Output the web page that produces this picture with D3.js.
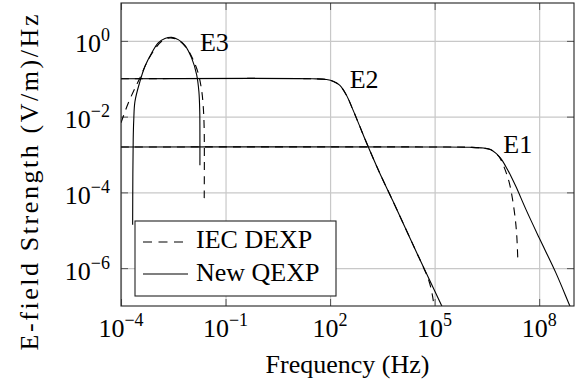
<!DOCTYPE html>
<html>
<head>
<meta charset="utf-8">
<script src="https://cdn.jsdelivr.net/npm/d3@7"></script>
<style>
  body { margin: 0; background: #fff; }
  svg { display: block; }
</style>
</head>
<body>
<svg id="chart"></svg>
<script>
// tick values
const xTicks = [1e-4, 1e-1, 1e2, 1e5, 1e8];
const yTicks = [1e-6, 1e-4, 1e-2, 1e0];
const curveNames = ["E1", "E2", "E3"];
const legendNames = ["IEC DEXP", "New QEXP"];

// [frequency Hz, E-field (V/m)/Hz]
const e1Qexp = [[1e-4,1.58e-3],[1e5,1.58e-3],[1e6,1.55e-3],[2.5e6,1.48e-3],[4e6,1.35e-3],[5.8e6,1.07e-3],
  [7.9e6,7.9e-4],[1.12e7,4.7e-4],[1.58e7,2.6e-4],[2.19e7,1.38e-4],[4.2e7,3.5e-5],[1e8,6.3e-6],
  [3e8,7.6e-7],[7.3e8,1.1e-7],[1e9,5.6e-8]];
const e1Dexp = [[1e-4,1.58e-3],[1e5,1.58e-3],[1e6,1.55e-3],[2.5e6,1.48e-3],[4e6,1.35e-3],[5.8e6,1.05e-3],
  [7.24e6,8.5e-4],[1e7,4.5e-4],[1.41e7,1.7e-4],[1.74e7,6.2e-5],[2.09e7,1.8e-5],[2.29e7,6.6e-6],[2.43e7,1.9e-6]];

const e2Qexp = [[1e-4,0.1],[31.6,0.1],[79.4,0.0955],[126,0.0851],[188,0.0676],[293,0.0372],[454,0.0151],
  [708,5.6e-3],[1096,2.1e-3],[2630,3.3e-4],[6310,6.0e-5],[3.16e4,2.4e-6],[1.61e5,1.0e-7],[2.51e5,4.0e-8]];
const e2Dexp = [[1e-4,0.1],[31.6,0.1],[79.4,0.0955],[126,0.0851],[188,0.0676],[293,0.0372],[454,0.0151],
  [708,5.6e-3],[1096,2.1e-3],[2630,3.3e-4],[6310,6.0e-5],[3.16e4,2.4e-6],[4.13e4,1.41e-6],[6.68e4,5.0e-7],
  [8.71e4,1.86e-7],[9.55e4,9.5e-8],[1e5,5e-8]];

const e3Qexp = [[2.16e-4,1.4e-5],[2.19e-4,3.2e-4],[2.24e-4,2.5e-3],[2.32e-4,7.9e-3],[2.51e-4,0.025],
  [3.5e-4,0.085],[4.88e-4,0.214],[7.59e-4,0.479],[1.17e-3,0.89],[1.82e-3,1.15],[2.84e-3,1.24],
  [4.39e-3,1.08],[6.82e-3,0.764],[1.06e-2,0.355],[1.48e-2,0.129],[1.72e-2,0.0457],[1.82e-2,0.0135],
  [1.84e-2,2.5e-3],[1.84e-2,5.2e-4]];
const e3Dexp = [[1e-4,6.9e-3],[1.62e-4,0.0229],[2.51e-4,0.0562],[3.66e-4,0.115],[5.44e-4,0.263],
  [8.41e-4,0.525],[1.47e-3,0.977],[2.54e-3,1.20],[4.39e-3,1.04],[7.62e-3,0.646],[1.18e-2,0.316],
  [1.64e-2,0.141],[2.05e-2,0.0513],[2.29e-2,0.0186],[2.44e-2,4.5e-3],[2.44e-2,5.1e-5]];

const width = 585, height = 383;
const margin = {top: 3, right: 11, bottom: 77, left: 121};
const w = width - margin.left - margin.right;
const h = height - margin.top - margin.bottom;
const serif = "Liberation Serif";

const svg = d3.select("#chart").attr("width", width).attr("height", height)
  .attr("font-family", serif);
const g = svg.append("g").attr("transform", `translate(${margin.left},${margin.top})`);

const x = d3.scaleLog().domain([1e-4, 1e9]).range([0, w]);
const y = d3.scaleLog().domain([1e-7, 1e1]).range([h, 0]);

svg.append("defs").append("clipPath").attr("id", "clip")
  .append("rect").attr("width", w).attr("height", h);

// grid
g.append("g").attr("transform", `translate(0,${h})`)
  .call(d3.axisBottom(x).tickValues(xTicks).tickSize(-h).tickFormat(""))
  .call(s => s.select(".domain").remove())
  .selectAll("line").attr("stroke", "#c8c8c8").attr("stroke-width", 1.2);
g.append("g")
  .call(d3.axisLeft(y).tickValues(yTicks).tickSize(-w).tickFormat(""))
  .call(s => s.select(".domain").remove())
  .selectAll("line").attr("stroke", "#c8c8c8").attr("stroke-width", 1.2);

// inner tick marks on all four sides
const tl = 7;
const tickStyle = s => {
  s.select(".domain").remove();
  s.selectAll("line").attr("stroke", "#555").attr("stroke-width", 1);
};
g.append("g").attr("transform", `translate(0,${h})`)
  .call(d3.axisBottom(x).tickValues(xTicks).tickSize(-tl).tickFormat("")).call(tickStyle);
g.append("g")
  .call(d3.axisTop(x).tickValues(xTicks).tickSize(-tl).tickFormat("")).call(tickStyle);
g.append("g")
  .call(d3.axisLeft(y).tickValues(yTicks).tickSize(-tl).tickFormat("")).call(tickStyle);
g.append("g").attr("transform", `translate(${w},0)`)
  .call(d3.axisRight(y).tickValues(yTicks).tickSize(-tl).tickFormat("")).call(tickStyle);

// tick labels as 10^n
function powLabel(sel, v) {
  const e = Math.round(Math.log10(v));
  sel.append("tspan").attr("font-size", 26).text("10");
  sel.append("tspan").attr("font-size", 18).attr("dy", -11)
    .text(e < 0 ? "\u2212" + (-e) : e);
}
g.append("g").selectAll("text").data(xTicks).join("text")
  .attr("x", d => x(d)).attr("y", h + 31)
  .attr("text-anchor", "middle").attr("font-family", serif)
  .each(function(d) { powLabel(d3.select(this), d); });
g.append("g").selectAll("text").data(yTicks).join("text")
  .attr("x", -11).attr("y", d => y(d) + 11.5)
  .attr("text-anchor", "end").attr("font-family", serif)
  .each(function(d) { powLabel(d3.select(this), d); });

// curves
const line = d3.line()
  .x(d => x(d[0])).y(d => y(d[1]))
  .curve(d3.curveCatmullRom.alpha(0.5));

const plot = g.append("g").attr("clip-path", "url(#clip)");
[e1Dexp, e2Dexp, e3Dexp].forEach(s => {
  plot.append("path").datum(s).attr("d", line)
    .attr("fill", "none").attr("stroke", "#000").attr("stroke-width", 1.1)
    .attr("stroke-dasharray", "8,6");
});
[e1Qexp, e2Qexp, e3Qexp].forEach(s => {
  plot.append("path").datum(s).attr("d", line)
    .attr("fill", "none").attr("stroke", "#000").attr("stroke-width", 1.1);
});

// curve labels
const labelAt = [[9.4e6, 1.12e-3], [365, 0.0575], [0.0184, 0.553]];
g.append("g").selectAll("text").data(curveNames).join("text")
  .attr("x", (d, i) => x(labelAt[i][0]))
  .attr("y", (d, i) => y(labelAt[i][1]))
  .attr("font-size", 26).attr("font-family", serif)
  .text(d => d);

// frame
g.append("rect").attr("width", w).attr("height", h)
  .attr("fill", "none").attr("stroke", "#222").attr("stroke-width", 1.1);

// legend
const lg = g.append("g").attr("transform", "translate(14,218)");
lg.append("rect").attr("width", 201).attr("height", 75)
  .attr("fill", "#fff").attr("stroke", "#222").attr("stroke-width", 1.1);
lg.selectAll("line").data(legendNames).join("line")
  .attr("x1", 8).attr("x2", d => d === "IEC DEXP" ? 48 : 53)
  .attr("y1", (d, i) => 21 + i * 32).attr("y2", (d, i) => 21 + i * 32)
  .attr("stroke", "#000").attr("stroke-width", 1.1)
  .attr("stroke-dasharray", d => d === "IEC DEXP" ? "9,6.5" : null);
lg.selectAll("text").data(legendNames).join("text")
  .attr("x", 61).attr("y", (d, i) => 27 + i * 32.5)
  .attr("font-size", 26).attr("font-family", serif)
  .text(d => d);

// axis titles
svg.append("text")
  .attr("x", margin.left + w / 2).attr("y", 373)
  .attr("text-anchor", "middle").attr("font-size", 26).attr("font-family", serif)
  .text("Frequency (Hz)");
svg.append("text")
  .attr("transform", "translate(38,182.5) rotate(-90)")
  .attr("text-anchor", "middle").attr("font-size", 26).attr("font-family", serif)
  .attr("textLength", 336).attr("lengthAdjust", "spacing")
  .text("E-field Strength (V/m)/Hz");
</script>
</body>
</html>
